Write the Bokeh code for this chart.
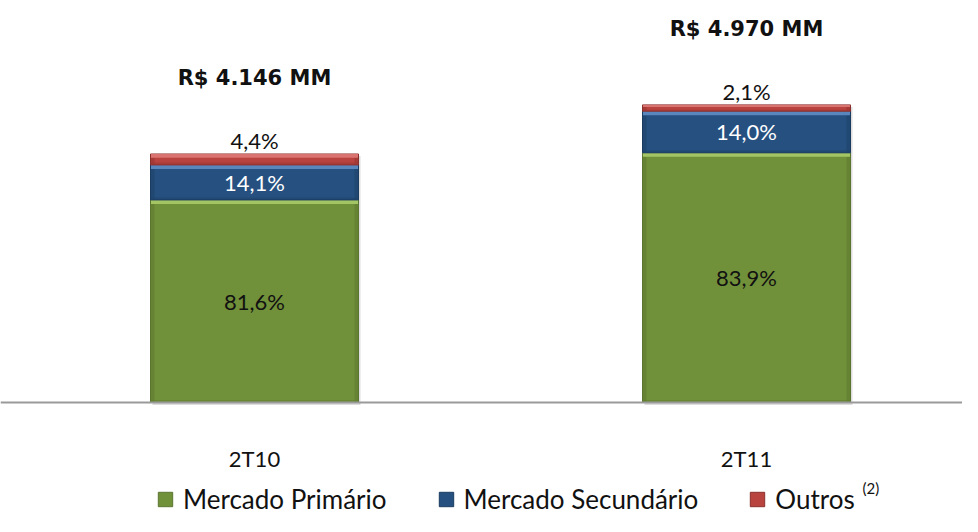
from bokeh.plotting import figure
from bokeh.models import ColumnDataSource, Range1d, Span, Legend, LegendItem, Label
from bokeh.core.properties import value
from bokeh.embed import file_html
from bokeh.resources import INLINE

# ---------------- data ----------------
categories = ["2T10", "2T11"]
totals = [4146, 4970]
total_labels = ["R$ 4.146 MM", "R$ 4.970 MM"]
series_names = ["Mercado Primário", "Mercado Secundário", "Outros"]
pct_primario = [81.6, 83.9]
pct_secundario = [14.1, 14.0]
pct_outros = [4.4, 2.1]
footnote = "(2)"

# ---------------- layout ----------------
W, H = 962, 516
PX_X = 492.0          # px per category unit
X0_PX = 254.0         # frame px of first category centre
MM_PER_PX = 16.7
BASE_PX_FROM_TOP = 402
x_start = -X0_PX / PX_X
x_end = (W - X0_PX) / PX_X
y_start = -(H - BASE_PX_FROM_TOP) * MM_PER_PX
y_end = BASE_PX_FROM_TOP * MM_PER_PX
bar_w = 208 / PX_X
band = 4 * MM_PER_PX      # bevel thickness in data units (y)
side = 4 / PX_X           # bevel thickness in data units (x)

xs = list(range(len(categories)))


def fmt(v):
    return f"{v:.1f}".replace(".", ",") + "%"


prim = [t * p / 100 for t, p in zip(totals, pct_primario)]
sec = [t * p / 100 for t, p in zip(totals, pct_secundario)]
outs = [t * p / 100 for t, p in zip(totals, pct_outros)]

seg_bottom = [[0] * 2, prim, [a + b for a, b in zip(prim, sec)]]
seg_top = [prim, [a + b for a, b in zip(prim, sec)], [a + b + c for a, b, c in zip(prim, sec, outs)]]

main_col = ["#71903A", "#26507F", "#B9433F"]
edge_col = ["#5A7530", "#1B3B60", "#8A2F2C"]
light_col = ["#A9CB68", "#5E8CC4", "#DE7A76"]
dark_col = ["#5F7B2E", "#1E4269", "#9A3532"]

p = figure(width=W, height=H, output_backend="svg", toolbar_location=None,
           x_range=Range1d(x_start, x_end), y_range=Range1d(y_start, y_end),
           min_border=0, outline_line_color=None)
p.xaxis.visible = False
p.yaxis.visible = False
p.xgrid.visible = False
p.ygrid.visible = False
p.background_fill_color = "white"
p.border_fill_color = "white"

# shadow under bars
p.quad(left=[x - bar_w / 2 + side * 0.5 for x in xs], right=[x + bar_w / 2 + side * 0.5 for x in xs],
       bottom=[-band * 0.6] * 2, top=[t - band * 0.5 for t in seg_top[2]],
       fill_color="#BBBBBB", fill_alpha=0.5, line_color=None)

renderers = []
for i in range(3):
    src = ColumnDataSource(dict(
        left=[x - bar_w / 2 for x in xs], right=[x + bar_w / 2 for x in xs],
        bottom=seg_bottom[i], top=seg_top[i]))
    r = p.quad(left="left", right="right", bottom="bottom", top="top", source=src,
               fill_color=main_col[i], line_color=edge_col[i], line_width=1)
    renderers.append(r)
    hgt = [t - b for t, b in zip(seg_top[i], seg_bottom[i])]
    bb = [min(band, h * 0.35) for h in hgt]
    # side shading
    p.quad(left=[x - bar_w / 2 + 0.5 / PX_X for x in xs], right=[x - bar_w / 2 + side for x in xs],
           bottom=[b + 1 for b in seg_bottom[i]], top=[t - b2 for t, b2 in zip(seg_top[i], bb)],
           fill_color=dark_col[i], fill_alpha=0.6, line_color=None)
    p.quad(left=[x + bar_w / 2 - side for x in xs], right=[x + bar_w / 2 - 0.5 / PX_X for x in xs],
           bottom=[b + 1 for b in seg_bottom[i]], top=[t - b2 for t, b2 in zip(seg_top[i], bb)],
           fill_color=dark_col[i], fill_alpha=0.6, line_color=None)
    # top highlight
    p.quad(left=[x - bar_w / 2 + 0.5 / PX_X for x in xs], right=[x + bar_w / 2 - 0.5 / PX_X for x in xs],
           bottom=[t - b2 for t, b2 in zip(seg_top[i], bb)], top=[t - 1 for t in seg_top[i]],
           fill_color=light_col[i], fill_alpha=0.9, line_color=None)
    # bottom darker strip
    p.quad(left=[x - bar_w / 2 + 0.5 / PX_X for x in xs], right=[x + bar_w / 2 - 0.5 / PX_X for x in xs],
           bottom=[b + 1 for b in seg_bottom[i]], top=[b + b2 * 0.6 for b, b2 in zip(seg_bottom[i], bb)],
           fill_color=dark_col[i], fill_alpha=0.5, line_color=None)

# baseline
p.add_layout(Span(location=0, dimension="width", line_color="#9A9A9A", line_width=2))

lab_font = value("Lato")
# primary labels
p.text(x=xs, y=[b / 2 for b in prim], text=[fmt(v) for v in pct_primario],
       text_font=lab_font, text_font_size="22px", text_color="#111111",
       text_align="center", text_baseline="middle")
# secondary labels (white)
p.text(x=xs, y=[(a + b) / 2 for a, b in zip(seg_bottom[1], seg_top[1])], text=[fmt(v) for v in pct_secundario],
       text_font=lab_font, text_font_size="22px", text_color="white",
       text_align="center", text_baseline="middle")
# outros labels above bar
p.text(x=xs, y=seg_top[2], text=[fmt(v) for v in pct_outros], y_offset=-13,
       text_font=lab_font, text_font_size="22px", text_color="#111111",
       text_align="center", text_baseline="middle")
# totals
p.text(x=xs, y=seg_top[2], text=total_labels, y_offset=-76,
       text_font=value("DejaVu Sans"), text_font_style="bold", text_font_size="21px",
       text_color="#111111", text_align="center", text_baseline="middle")
# category labels
p.text(x=xs, y=[0, 0], text=categories, y_offset=56,
       text_font=lab_font, text_font_size="22px", text_color="#111111",
       text_align="center", text_baseline="middle")

legend = Legend(items=[LegendItem(label=series_names[i], renderers=[renderers[i]]) for i in range(3)],
                orientation="horizontal", location=(156, 1),
                label_text_font="Lato", label_text_font_size="26px", label_text_color="#111111",
                glyph_width=18, glyph_height=18, label_standoff=9, spacing=50,
                padding=0, margin=0, border_line_alpha=0, background_fill_alpha=0)
p.add_layout(legend, "center")

p.add_layout(Label(x=862, y=29, x_units="screen", y_units="screen", text=footnote,
                   text_font="Lato", text_font_size="15px", text_color="#111111",
                   text_baseline="middle"))

open("out.html", "w").write(file_html(p, INLINE))
